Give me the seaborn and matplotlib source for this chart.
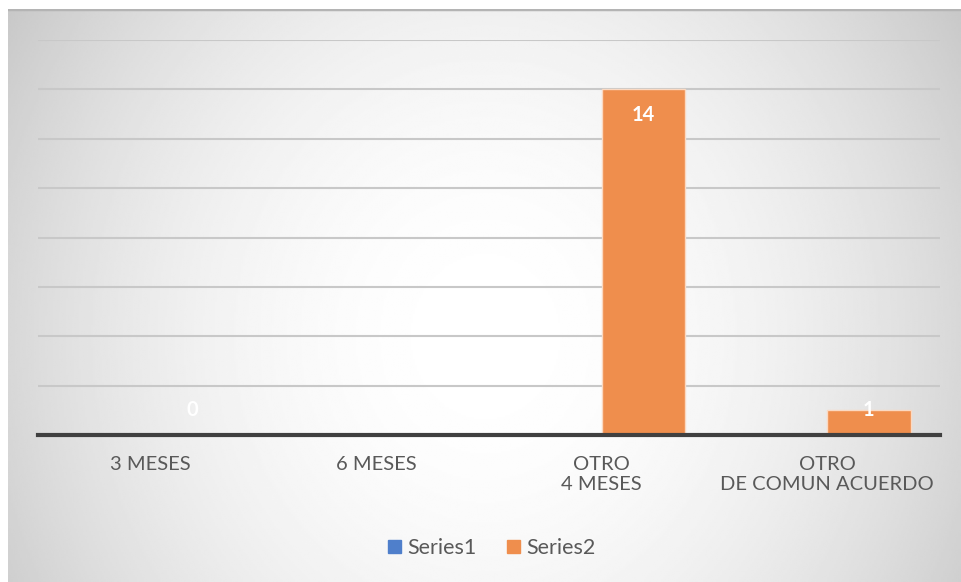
import seaborn as sns
import matplotlib.pyplot as plt
import matplotlib.patches as mpatches
import numpy as np
import pandas as pd

categories = ['3 MESES', '6 MESES', 'OTRO\n4 MESES', 'OTRO\nDE COMUN ACUERDO']
series1 = [np.nan, np.nan, np.nan, np.nan]
series2 = [0, np.nan, 14, 1]
series_names = ['Series1', 'Series2']
colors = ['#4F7FCB', '#EF8E4D']

df = pd.DataFrame({
  'cat': categories * 2,
  'serie': [series_names[0]] * 4 + [series_names[1]] * 4,
  'val': series1 + series2,
})

sns.set_theme(style='white')
plt.rcParams['font.family'] = ['Lato', 'DejaVu Sans']

W, H = 961, 582
fig = plt.figure(figsize=(W / 100, H / 100), dpi=100)

# radial grey background of the chart area
bg = fig.add_axes([8 / W, 0, (W - 8) / W, (H - 9) / H])
ny, nx = 300, 500
yy, xx = np.mgrid[0:ny, 0:nx]
r = ((xx - nx * 0.5) / (nx * 0.6)) ** 2 + ((yy - ny * 0.57) / (ny * 1.1)) ** 2
shade = np.clip(255 - 57 * r, 195, 255) / 255
bg.imshow(shade, cmap='gray', vmin=0, vmax=1, aspect='auto', extent=[0, 1, 0, 1], interpolation='bilinear')
bg.axhline(1, color='#b4b4b4', lw=2.5)
bg.set_axis_off()

ax = fig.add_axes([38 / W, (H - 435) / H, (940 - 38) / W, (435 - 40) / H])
ax.patch.set_alpha(0)

sns.barplot(data=df, x='cat', y='val', hue='serie', hue_order=series_names,
            palette=colors, width=0.74, ax=ax, legend=False,
            edgecolor='#FBD9C2', linewidth=1, saturation=1)

ax.set_ylim(0, 16)
ax.set_yticks(np.arange(0, 17, 2))
ax.grid(axis='y', color='#c8c8c8', lw=1.5)
ax.set_axisbelow(True)
ax.tick_params(axis='y', left=False, labelleft=False)
ax.tick_params(axis='x', bottom=False, labelsize=14.5, labelcolor='#595959', pad=9)
ax.set_xlabel('')
ax.set_ylabel('')
for s in ['top', 'right', 'left']:
  ax.spines[s].set_visible(False)
ax.spines['bottom'].set_color('#404040')
ax.spines['bottom'].set_linewidth(3)

# data labels of Series2
off = 0.185
for i, v in enumerate(series2):
  if np.isnan(v):
    continue
  ypos = v - 1.05 if v > 2 else 1.0
  ax.text(i + off, ypos, f"{int(v)}", ha='center', va='center', color='white',
          fontsize=14.5, fontweight='bold')

handles = [mpatches.Patch(color=c, label=n) for c, n in zip(colors, series_names)]
fig.legend(handles=handles, loc='center', bbox_to_anchor=(492 / W, 1 - 548 / H), ncol=2,
           frameon=False, fontsize=15.5, handlelength=0.6, handleheight=0.6,
           handletextpad=0.3, columnspacing=1.4, labelcolor='#595959')

plt.savefig('out.png', dpi=100)
